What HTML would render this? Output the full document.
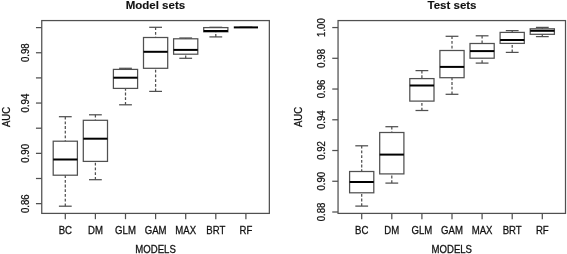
<!DOCTYPE html>
<html><head><meta charset="utf-8"><style>
html,body{margin:0;padding:0;background:#fff;}
svg{display:block;filter:grayscale(1);}
text{font-family:"Liberation Sans",sans-serif;fill:#111;stroke:#111;stroke-width:0.25px;}
</style></head><body>
<svg width="567" height="254" viewBox="0 0 567 254">
<rect width="567" height="254" fill="#fff"/>
<rect x="41.75" y="20.57" width="227.60" height="192.83" fill="none" stroke="#505050" stroke-width="1.25"/>
<line x1="35.95" y1="27.60" x2="41.75" y2="27.60" stroke="#505050" stroke-width="1.25"/>
<line x1="35.95" y1="52.75" x2="41.75" y2="52.75" stroke="#505050" stroke-width="1.25"/>
<text transform="translate(29.00,52.75) rotate(-90) scale(1,1.06)" text-anchor="middle" font-size="9.6" font-weight="normal">0.98</text>
<line x1="35.95" y1="77.90" x2="41.75" y2="77.90" stroke="#505050" stroke-width="1.25"/>
<line x1="35.95" y1="103.05" x2="41.75" y2="103.05" stroke="#505050" stroke-width="1.25"/>
<text transform="translate(29.00,103.05) rotate(-90) scale(1,1.06)" text-anchor="middle" font-size="9.6" font-weight="normal">0.94</text>
<line x1="35.95" y1="128.20" x2="41.75" y2="128.20" stroke="#505050" stroke-width="1.25"/>
<line x1="35.95" y1="153.35" x2="41.75" y2="153.35" stroke="#505050" stroke-width="1.25"/>
<text transform="translate(29.00,153.35) rotate(-90) scale(1,1.06)" text-anchor="middle" font-size="9.6" font-weight="normal">0.90</text>
<line x1="35.95" y1="178.50" x2="41.75" y2="178.50" stroke="#505050" stroke-width="1.25"/>
<line x1="35.95" y1="203.65" x2="41.75" y2="203.65" stroke="#505050" stroke-width="1.25"/>
<text transform="translate(29.00,203.65) rotate(-90) scale(1,1.06)" text-anchor="middle" font-size="9.6" font-weight="normal">0.86</text>
<line x1="65.30" y1="213.40" x2="65.30" y2="219.20" stroke="#505050" stroke-width="1.25"/>
<text transform="translate(65.30,234.40) scale(1,1.06)" text-anchor="middle" font-size="9.6" font-weight="normal">BC</text>
<line x1="65.30" y1="116.70" x2="65.30" y2="141.20" stroke="#505050" stroke-width="1.25" stroke-dasharray="2.8,1.9"/>
<line x1="65.30" y1="206.20" x2="65.30" y2="175.20" stroke="#505050" stroke-width="1.25" stroke-dasharray="2.8,1.9"/>
<line x1="58.90" y1="116.70" x2="71.70" y2="116.70" stroke="#505050" stroke-width="1.25"/>
<line x1="58.90" y1="206.20" x2="71.70" y2="206.20" stroke="#505050" stroke-width="1.25"/>
<rect x="53.20" y="141.20" width="24.20" height="34.00" fill="none" stroke="#505050" stroke-width="1.25"/>
<line x1="53.20" y1="159.50" x2="77.40" y2="159.50" stroke="#000" stroke-width="2"/>
<line x1="95.40" y1="213.40" x2="95.40" y2="219.20" stroke="#505050" stroke-width="1.25"/>
<text transform="translate(95.40,234.40) scale(1,1.06)" text-anchor="middle" font-size="9.6" font-weight="normal">DM</text>
<line x1="95.40" y1="114.80" x2="95.40" y2="120.30" stroke="#505050" stroke-width="1.25" stroke-dasharray="2.8,1.9"/>
<line x1="95.40" y1="179.70" x2="95.40" y2="161.40" stroke="#505050" stroke-width="1.25" stroke-dasharray="2.8,1.9"/>
<line x1="89.00" y1="114.80" x2="101.80" y2="114.80" stroke="#505050" stroke-width="1.25"/>
<line x1="89.00" y1="179.70" x2="101.80" y2="179.70" stroke="#505050" stroke-width="1.25"/>
<rect x="83.30" y="120.30" width="24.20" height="41.10" fill="none" stroke="#505050" stroke-width="1.25"/>
<line x1="83.30" y1="138.70" x2="107.50" y2="138.70" stroke="#000" stroke-width="2"/>
<line x1="125.50" y1="213.40" x2="125.50" y2="219.20" stroke="#505050" stroke-width="1.25"/>
<text transform="translate(125.50,234.40) scale(1,1.06)" text-anchor="middle" font-size="9.6" font-weight="normal">GLM</text>
<line x1="125.50" y1="68.30" x2="125.50" y2="69.40" stroke="#505050" stroke-width="1.25" stroke-dasharray="2.8,1.9"/>
<line x1="125.50" y1="104.80" x2="125.50" y2="88.40" stroke="#505050" stroke-width="1.25" stroke-dasharray="2.8,1.9"/>
<line x1="119.10" y1="68.30" x2="131.90" y2="68.30" stroke="#505050" stroke-width="1.25"/>
<line x1="119.10" y1="104.80" x2="131.90" y2="104.80" stroke="#505050" stroke-width="1.25"/>
<rect x="113.40" y="69.40" width="24.20" height="19.00" fill="none" stroke="#505050" stroke-width="1.25"/>
<line x1="113.40" y1="77.70" x2="137.60" y2="77.70" stroke="#000" stroke-width="2"/>
<line x1="155.60" y1="213.40" x2="155.60" y2="219.20" stroke="#505050" stroke-width="1.25"/>
<text transform="translate(155.60,234.40) scale(1,1.06)" text-anchor="middle" font-size="9.6" font-weight="normal">GAM</text>
<line x1="155.60" y1="27.30" x2="155.60" y2="37.50" stroke="#505050" stroke-width="1.25" stroke-dasharray="2.8,1.9"/>
<line x1="155.60" y1="91.40" x2="155.60" y2="68.30" stroke="#505050" stroke-width="1.25" stroke-dasharray="2.8,1.9"/>
<line x1="149.20" y1="27.30" x2="162.00" y2="27.30" stroke="#505050" stroke-width="1.25"/>
<line x1="149.20" y1="91.40" x2="162.00" y2="91.40" stroke="#505050" stroke-width="1.25"/>
<rect x="143.50" y="37.50" width="24.20" height="30.80" fill="none" stroke="#505050" stroke-width="1.25"/>
<line x1="143.50" y1="51.80" x2="167.70" y2="51.80" stroke="#000" stroke-width="2"/>
<line x1="185.70" y1="213.40" x2="185.70" y2="219.20" stroke="#505050" stroke-width="1.25"/>
<text transform="translate(185.70,234.40) scale(1,1.06)" text-anchor="middle" font-size="9.6" font-weight="normal">MAX</text>
<line x1="185.70" y1="38.00" x2="185.70" y2="38.80" stroke="#505050" stroke-width="1.25" stroke-dasharray="2.8,1.9"/>
<line x1="185.70" y1="58.30" x2="185.70" y2="54.20" stroke="#505050" stroke-width="1.25" stroke-dasharray="2.8,1.9"/>
<line x1="179.30" y1="38.00" x2="192.10" y2="38.00" stroke="#505050" stroke-width="1.25"/>
<line x1="179.30" y1="58.30" x2="192.10" y2="58.30" stroke="#505050" stroke-width="1.25"/>
<rect x="173.60" y="38.80" width="24.20" height="15.40" fill="none" stroke="#505050" stroke-width="1.25"/>
<line x1="173.60" y1="49.90" x2="197.80" y2="49.90" stroke="#000" stroke-width="2"/>
<line x1="215.80" y1="213.40" x2="215.80" y2="219.20" stroke="#505050" stroke-width="1.25"/>
<text transform="translate(215.80,234.40) scale(1,1.06)" text-anchor="middle" font-size="9.6" font-weight="normal">BRT</text>
<line x1="215.80" y1="36.90" x2="215.80" y2="31.80" stroke="#505050" stroke-width="1.25" stroke-dasharray="2.8,1.9"/>
<line x1="209.40" y1="27.30" x2="222.20" y2="27.30" stroke="#505050" stroke-width="1.25"/>
<line x1="209.40" y1="36.90" x2="222.20" y2="36.90" stroke="#505050" stroke-width="1.25"/>
<rect x="203.70" y="27.60" width="24.20" height="4.20" fill="none" stroke="#505050" stroke-width="1.25"/>
<line x1="203.70" y1="31.00" x2="227.90" y2="31.00" stroke="#000" stroke-width="2"/>
<line x1="245.90" y1="213.40" x2="245.90" y2="219.20" stroke="#505050" stroke-width="1.25"/>
<text transform="translate(245.90,234.40) scale(1,1.06)" text-anchor="middle" font-size="9.6" font-weight="normal">RF</text>
<line x1="239.50" y1="27.40" x2="252.30" y2="27.40" stroke="#505050" stroke-width="1.25"/>
<line x1="239.50" y1="27.40" x2="252.30" y2="27.40" stroke="#505050" stroke-width="1.25"/>
<rect x="233.80" y="27.40" width="24.20" height="0.00" fill="none" stroke="#505050" stroke-width="1.25"/>
<line x1="233.80" y1="27.40" x2="258.00" y2="27.40" stroke="#000" stroke-width="2"/>
<text transform="translate(155.55,252.60) scale(1,1.06)" text-anchor="middle" font-size="9.6" font-weight="normal">MODELS</text>
<text transform="translate(10.00,116.98) rotate(-90) scale(1,1.06)" text-anchor="middle" font-size="9.6" font-weight="normal">AUC</text>
<text transform="translate(155.40,9.30) scale(1,1.0)" text-anchor="middle" font-size="11.5" font-weight="bold" style="stroke-width:0.12px">Model sets</text>
<rect x="338.05" y="20.57" width="227.45" height="192.83" fill="none" stroke="#505050" stroke-width="1.25"/>
<line x1="332.25" y1="27.56" x2="338.05" y2="27.56" stroke="#505050" stroke-width="1.25"/>
<text transform="translate(324.90,27.56) rotate(-90) scale(1,1.06)" text-anchor="middle" font-size="9.6" font-weight="normal">1.00</text>
<line x1="332.25" y1="58.30" x2="338.05" y2="58.30" stroke="#505050" stroke-width="1.25"/>
<text transform="translate(324.90,58.30) rotate(-90) scale(1,1.06)" text-anchor="middle" font-size="9.6" font-weight="normal">0.98</text>
<line x1="332.25" y1="89.04" x2="338.05" y2="89.04" stroke="#505050" stroke-width="1.25"/>
<text transform="translate(324.90,89.04) rotate(-90) scale(1,1.06)" text-anchor="middle" font-size="9.6" font-weight="normal">0.96</text>
<line x1="332.25" y1="119.78" x2="338.05" y2="119.78" stroke="#505050" stroke-width="1.25"/>
<text transform="translate(324.90,119.78) rotate(-90) scale(1,1.06)" text-anchor="middle" font-size="9.6" font-weight="normal">0.94</text>
<line x1="332.25" y1="150.52" x2="338.05" y2="150.52" stroke="#505050" stroke-width="1.25"/>
<text transform="translate(324.90,150.52) rotate(-90) scale(1,1.06)" text-anchor="middle" font-size="9.6" font-weight="normal">0.92</text>
<line x1="332.25" y1="181.26" x2="338.05" y2="181.26" stroke="#505050" stroke-width="1.25"/>
<text transform="translate(324.90,181.26) rotate(-90) scale(1,1.06)" text-anchor="middle" font-size="9.6" font-weight="normal">0.90</text>
<line x1="332.25" y1="212.00" x2="338.05" y2="212.00" stroke="#505050" stroke-width="1.25"/>
<text transform="translate(324.90,212.00) rotate(-90) scale(1,1.06)" text-anchor="middle" font-size="9.6" font-weight="normal">0.88</text>
<line x1="361.70" y1="213.40" x2="361.70" y2="219.20" stroke="#505050" stroke-width="1.25"/>
<text transform="translate(361.70,234.40) scale(1,1.06)" text-anchor="middle" font-size="9.6" font-weight="normal">BC</text>
<line x1="361.70" y1="145.80" x2="361.70" y2="171.50" stroke="#505050" stroke-width="1.25" stroke-dasharray="2.8,1.9"/>
<line x1="361.70" y1="206.10" x2="361.70" y2="192.80" stroke="#505050" stroke-width="1.25" stroke-dasharray="2.8,1.9"/>
<line x1="355.30" y1="145.80" x2="368.10" y2="145.80" stroke="#505050" stroke-width="1.25"/>
<line x1="355.30" y1="206.10" x2="368.10" y2="206.10" stroke="#505050" stroke-width="1.25"/>
<rect x="349.60" y="171.50" width="24.20" height="21.30" fill="none" stroke="#505050" stroke-width="1.25"/>
<line x1="349.60" y1="182.00" x2="373.80" y2="182.00" stroke="#000" stroke-width="2"/>
<line x1="391.80" y1="213.40" x2="391.80" y2="219.20" stroke="#505050" stroke-width="1.25"/>
<text transform="translate(391.80,234.40) scale(1,1.06)" text-anchor="middle" font-size="9.6" font-weight="normal">DM</text>
<line x1="391.80" y1="126.70" x2="391.80" y2="132.50" stroke="#505050" stroke-width="1.25" stroke-dasharray="2.8,1.9"/>
<line x1="391.80" y1="183.10" x2="391.80" y2="173.90" stroke="#505050" stroke-width="1.25" stroke-dasharray="2.8,1.9"/>
<line x1="385.40" y1="126.70" x2="398.20" y2="126.70" stroke="#505050" stroke-width="1.25"/>
<line x1="385.40" y1="183.10" x2="398.20" y2="183.10" stroke="#505050" stroke-width="1.25"/>
<rect x="379.70" y="132.50" width="24.20" height="41.40" fill="none" stroke="#505050" stroke-width="1.25"/>
<line x1="379.70" y1="154.60" x2="403.90" y2="154.60" stroke="#000" stroke-width="2"/>
<line x1="421.90" y1="213.40" x2="421.90" y2="219.20" stroke="#505050" stroke-width="1.25"/>
<text transform="translate(421.90,234.40) scale(1,1.06)" text-anchor="middle" font-size="9.6" font-weight="normal">GLM</text>
<line x1="421.90" y1="70.60" x2="421.90" y2="78.60" stroke="#505050" stroke-width="1.25" stroke-dasharray="2.8,1.9"/>
<line x1="421.90" y1="110.50" x2="421.90" y2="101.10" stroke="#505050" stroke-width="1.25" stroke-dasharray="2.8,1.9"/>
<line x1="415.50" y1="70.60" x2="428.30" y2="70.60" stroke="#505050" stroke-width="1.25"/>
<line x1="415.50" y1="110.50" x2="428.30" y2="110.50" stroke="#505050" stroke-width="1.25"/>
<rect x="409.80" y="78.60" width="24.20" height="22.50" fill="none" stroke="#505050" stroke-width="1.25"/>
<line x1="409.80" y1="85.50" x2="434.00" y2="85.50" stroke="#000" stroke-width="2"/>
<line x1="452.00" y1="213.40" x2="452.00" y2="219.20" stroke="#505050" stroke-width="1.25"/>
<text transform="translate(452.00,234.40) scale(1,1.06)" text-anchor="middle" font-size="9.6" font-weight="normal">GAM</text>
<line x1="452.00" y1="36.30" x2="452.00" y2="50.50" stroke="#505050" stroke-width="1.25" stroke-dasharray="2.8,1.9"/>
<line x1="452.00" y1="94.30" x2="452.00" y2="77.70" stroke="#505050" stroke-width="1.25" stroke-dasharray="2.8,1.9"/>
<line x1="445.60" y1="36.30" x2="458.40" y2="36.30" stroke="#505050" stroke-width="1.25"/>
<line x1="445.60" y1="94.30" x2="458.40" y2="94.30" stroke="#505050" stroke-width="1.25"/>
<rect x="439.90" y="50.50" width="24.20" height="27.20" fill="none" stroke="#505050" stroke-width="1.25"/>
<line x1="439.90" y1="66.90" x2="464.10" y2="66.90" stroke="#000" stroke-width="2"/>
<line x1="482.10" y1="213.40" x2="482.10" y2="219.20" stroke="#505050" stroke-width="1.25"/>
<text transform="translate(482.10,234.40) scale(1,1.06)" text-anchor="middle" font-size="9.6" font-weight="normal">MAX</text>
<line x1="482.10" y1="35.80" x2="482.10" y2="43.50" stroke="#505050" stroke-width="1.25" stroke-dasharray="2.8,1.9"/>
<line x1="482.10" y1="63.10" x2="482.10" y2="58.20" stroke="#505050" stroke-width="1.25" stroke-dasharray="2.8,1.9"/>
<line x1="475.70" y1="35.80" x2="488.50" y2="35.80" stroke="#505050" stroke-width="1.25"/>
<line x1="475.70" y1="63.10" x2="488.50" y2="63.10" stroke="#505050" stroke-width="1.25"/>
<rect x="470.00" y="43.50" width="24.20" height="14.70" fill="none" stroke="#505050" stroke-width="1.25"/>
<line x1="470.00" y1="51.10" x2="494.20" y2="51.10" stroke="#000" stroke-width="2"/>
<line x1="512.20" y1="213.40" x2="512.20" y2="219.20" stroke="#505050" stroke-width="1.25"/>
<text transform="translate(512.20,234.40) scale(1,1.06)" text-anchor="middle" font-size="9.6" font-weight="normal">BRT</text>
<line x1="512.20" y1="30.60" x2="512.20" y2="32.40" stroke="#505050" stroke-width="1.25" stroke-dasharray="2.8,1.9"/>
<line x1="512.20" y1="52.40" x2="512.20" y2="43.40" stroke="#505050" stroke-width="1.25" stroke-dasharray="2.8,1.9"/>
<line x1="505.80" y1="30.60" x2="518.60" y2="30.60" stroke="#505050" stroke-width="1.25"/>
<line x1="505.80" y1="52.40" x2="518.60" y2="52.40" stroke="#505050" stroke-width="1.25"/>
<rect x="500.10" y="32.40" width="24.20" height="11.00" fill="none" stroke="#505050" stroke-width="1.25"/>
<line x1="500.10" y1="40.00" x2="524.30" y2="40.00" stroke="#000" stroke-width="2"/>
<line x1="542.30" y1="213.40" x2="542.30" y2="219.20" stroke="#505050" stroke-width="1.25"/>
<text transform="translate(542.30,234.40) scale(1,1.06)" text-anchor="middle" font-size="9.6" font-weight="normal">RF</text>
<line x1="542.30" y1="27.40" x2="542.30" y2="28.80" stroke="#505050" stroke-width="1.25" stroke-dasharray="2.8,1.9"/>
<line x1="542.30" y1="36.60" x2="542.30" y2="34.30" stroke="#505050" stroke-width="1.25" stroke-dasharray="2.8,1.9"/>
<line x1="535.90" y1="27.40" x2="548.70" y2="27.40" stroke="#505050" stroke-width="1.25"/>
<line x1="535.90" y1="36.60" x2="548.70" y2="36.60" stroke="#505050" stroke-width="1.25"/>
<rect x="530.20" y="28.80" width="24.20" height="5.50" fill="none" stroke="#505050" stroke-width="1.25"/>
<line x1="530.20" y1="30.80" x2="554.40" y2="30.80" stroke="#000" stroke-width="2"/>
<text transform="translate(451.77,252.60) scale(1,1.06)" text-anchor="middle" font-size="9.6" font-weight="normal">MODELS</text>
<text transform="translate(302.40,116.98) rotate(-90) scale(1,1.06)" text-anchor="middle" font-size="9.6" font-weight="normal">AUC</text>
<text transform="translate(452.00,9.30) scale(1,1.0)" text-anchor="middle" font-size="11.5" font-weight="bold" style="stroke-width:0.12px">Test sets</text>
</svg>
</body></html>
